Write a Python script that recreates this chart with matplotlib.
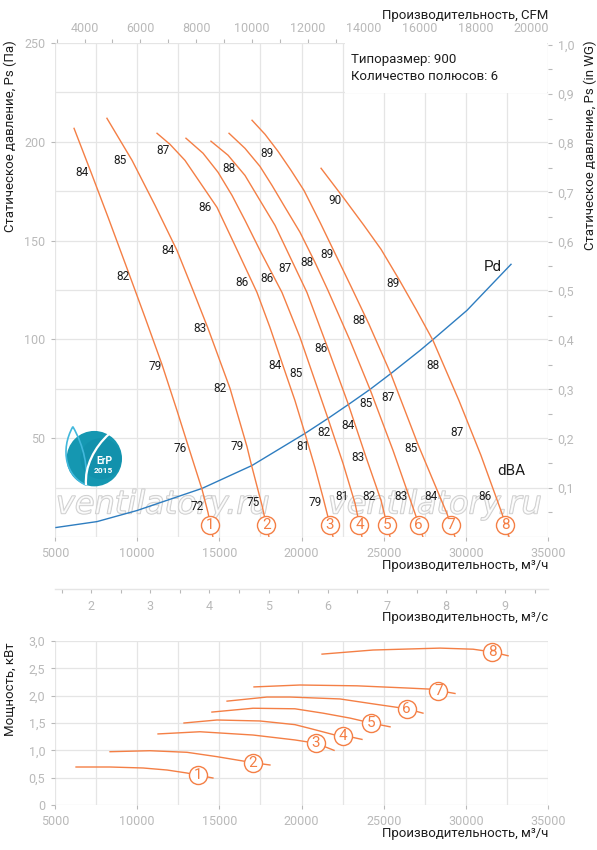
import numpy as np
import matplotlib
matplotlib.use('Agg')
import matplotlib.pyplot as plt
from matplotlib.ticker import MultipleLocator, FuncFormatter, FixedLocator
from matplotlib.patches import Rectangle, Circle, PathPatch
from matplotlib.path import Path
import matplotlib.patheffects as pe

plt.rcParams['font.family'] = ['Roboto', 'DejaVu Sans']

# ---------------- data: pressure curves (m3/h, Pa) ----------------
q_1 = [6160, 7190, 8230, 9380, 10480, 11510, 12420, 13210, 13950, 14310, 14610]
ps_1 = [206.8, 184.6, 161.8, 136.0, 111.1, 87.3, 64.1, 43.3, 24.0, 12.4, 0]
q_2 = [8160, 9690, 11090, 12420, 13400, 14310, 15650, 16680, 16930, 17600, 18020]
ps_2 = [211.9, 190.6, 167.8, 145.1, 124.8, 105.6, 75.2, 45.8, 37.2, 15.9, 0]
q_3 = [11210, 12000, 12910, 13820, 14860, 15950, 17290, 18080, 18870, 19600, 20210, 20820, 21310, 21920]
ps_3 = [204.3, 198.7, 190.6, 179.5, 166.8, 147.6, 123.8, 106.1, 86.8, 69.1, 52.4, 35.2, 20.0, 0]
q_4 = [12970, 14010, 14920, 15770, 16560, 17470, 18810, 19910, 21610, 22530, 23260, 23680]
ps_4 = [201.8, 194.2, 184.6, 172.9, 160.3, 145.1, 123.8, 101.0, 60.0, 37.2, 17.0, 0]
q_5 = [14490, 15530, 16560, 17470, 18390, 20330, 21610, 22830, 23930, 24840, 25390]
ps_5 = [200.3, 193.2, 183.0, 170.4, 157.7, 123.8, 95.4, 67.6, 40.3, 18.5, 0]
q_6 = [15590, 16560, 17470, 18200, 19000, 19910, 20820, 21610, 22950, 24170, 25570, 26910, 27390]
ps_6 = [204.3, 196.7, 187.6, 178.0, 166.8, 154.2, 139.0, 124.8, 99.5, 74.7, 43.8, 11.9, 0]
q_7 = [16990, 17780, 18570, 19360, 20150, 21130, 22100, 23070, 24110, 25450, 27090, 28850, 29340]
ps_7 = [210.9, 203.8, 195.2, 185.6, 175.4, 159.2, 142.5, 125.8, 107.6, 82.3, 46.8, 11.9, 0]
q_8 = [21190, 22580, 23800, 24840, 25930, 26970, 28000, 29580, 30920, 32200, 32630]
ps_8 = [186.6, 171.4, 157.7, 145.6, 130.4, 115.2, 99.5, 69.1, 41.3, 11.9, 0]

# dynamic pressure Pd
pd_q = [5060, 7560, 9990, 13950, 16990, 20210, 21610, 22950, 24170, 25450, 27210, 27940, 30070, 32750]
pd_ps = [4.8, 7.8, 13.4, 24.6, 36.2, 52.4, 60.0, 67.6, 74.7, 82.8, 94.4, 99.5, 114.7, 138.0]

# sound level labels (dBA) along the curves
dba_q = [6640, 9140, 11090, 12610, 13640,
         8960, 11880, 13820, 15040, 16080, 17050,
         11570, 14130, 16380, 18390, 20090, 20820,
         17900, 19670, 21370, 22460,
         15590, 19000, 21190, 22830, 23440, 24110,
         20330, 23930, 26050,
         17900, 21550, 23500, 25260, 26660, 27880,
         22040, 25570, 28000, 29460, 31170]
dba_ps = [184.6, 131.9, 86.1, 44.8, 15.4,
          190.6, 145.1, 105.6, 75.2, 45.8, 17.5,
          195.7, 166.8, 128.6, 86.8, 45.8, 17.5,
          130.9, 82.8, 52.9, 20.5,
          186.6, 135.9, 95.4, 56.5, 40.3, 20.5,
          139.0, 67.6, 20.5,
          194.2, 143.0, 109.6, 70.6, 44.8, 20.5,
          170.4, 128.4, 86.8, 52.9, 20.5]
dba_val = ['84', '82', '79', '76', '72',
           '85', '84', '83', '82', '79', '75',
           '87', '86', '86', '84', '81', '79',
           '86', '85', '82', '81',
           '88', '87', '86', '84', '83', '82',
           '88', '85', '83',
           '89', '89', '88', '87', '85', '84',
           '90', '89', '88', '87', '86']

# ---------------- data: power curves (m3/h, kW) ----------------
pq_1 = [6280, 8350, 10360, 11820, 13030, 14610]
pw_1 = [0.695, 0.695, 0.677, 0.640, 0.585, 0.494]
pq_2 = [8350, 10780, 13030, 14860, 17050, 18080]
pw_2 = [0.975, 0.993, 0.964, 0.884, 0.774, 0.732]
pq_3 = [11270, 13820, 17050, 19600, 20880, 21980]
pw_3 = [1.30, 1.34, 1.28, 1.19, 1.13, 1.00]
pq_4 = [12850, 14860, 17470, 19600, 20520, 22040, 23070, 23680]
pw_4 = [1.50, 1.555, 1.537, 1.47, 1.40, 1.28, 1.24, 1.20]
pq_5 = [14550, 17050, 19600, 21310, 22950, 24230, 25390]
pw_5 = [1.70, 1.77, 1.76, 1.68, 1.59, 1.50, 1.43]
pq_6 = [15470, 17900, 19300, 22340, 24350, 26420, 27390]
pw_6 = [1.90, 1.975, 1.975, 1.94, 1.85, 1.76, 1.68]
pq_7 = [17110, 19910, 23380, 26420, 27820, 29340]
pw_7 = [2.16, 2.195, 2.18, 2.14, 2.12, 2.04]
pq_8 = [21250, 24350, 28430, 30440, 31590, 32570]
pw_8 = [2.76, 2.835, 2.87, 2.85, 2.80, 2.73]

curve_ids = ['1', '2', '3', '4', '5', '6', '7', '8']
mark_ps = 6.3            # Pa level where the number circles sit
pw_mark_q = [13700, 17050, 20880, 22530, 24230, 26400, 28320, 31590]

info_lines = ['Типоразмер: 900', 'Количество полюсов: 6']

# ---------------- styling ----------------
ORANGE = '#f47f45'
BLUE = '#2e7dc0'
GRID = '#e5e5e5'
TICK = '#b9b9b9'
TXT = '#1e1e1e'
W, H = 597, 850
FS_TICK = 9
FS_LAB = 9.5


def fx(px):
    return px / W


def fy(py):
    return 1 - py / H


def comma(v, p=None):
    if abs(v) < 1e-9:
        return '0'
    return f'{v:.1f}'.replace('.', ',')


fig = plt.figure(figsize=(W / 100, H / 100), dpi=100)

# ---------- main pressure axes ----------
ax = fig.add_axes([fx(55), fy(537), fx(548) - fx(55), fy(43) - fy(537)])
ax.set_xlim(5000, 35000)
ax.set_ylim(0, 250)
ax.set_axisbelow(True)
for s in ax.spines.values():
    s.set_visible(False)
ax.xaxis.set_major_locator(MultipleLocator(5000))
ax.xaxis.set_minor_locator(MultipleLocator(2500))
ax.yaxis.set_major_locator(FixedLocator([50, 100, 150, 200, 250]))
ax.yaxis.set_minor_locator(MultipleLocator(25))
ax.grid(True, which='both', color=GRID, lw=0.9)
ax.tick_params(axis='both', which='major', colors=TICK, labelsize=FS_TICK, length=3, width=0.8, pad=4)
ax.tick_params(which='minor', length=0)
ax.xaxis.set_major_formatter(FuncFormatter(lambda v, p: f'{int(v)}'))

# white info box
ax.add_patch(Rectangle((0.588, 0.899), 0.409, 0.11, transform=ax.transAxes,
                       facecolor='white', edgecolor='none', zorder=1, clip_on=False))
for i, line in enumerate(info_lines):
    fig.text(fx(351), fy(59 + 17 * i), line, ha='left', va='center', fontsize=9.5, color=TXT, zorder=5)

# watermarks (behind the curves)
for xc in (163, 435):
    ax.text(5000 + (xc - 55) * 30000 / 493, (537 - 505) * 250 / 494, 'ventilatory.ru',
            ha='center', va='center', fontsize=23, family='DejaVu Sans', style='italic',
            color=(1, 1, 1, 0.55), zorder=1.5, clip_on=False,
            path_effects=[pe.withStroke(linewidth=1.0, foreground='#cacaca')])

# Pd curve
ax.plot(pd_q, pd_ps, color=BLUE, lw=1.0, zorder=2)
ax.text(31650, 136.5, 'Pd', fontsize=11, color=TXT, ha='center', va='center', zorder=4)
ax.text(32750, 33.2, 'dBA', fontsize=11, color=TXT, ha='center', va='center', zorder=4)

pq_list = [q_1, q_2, q_3, q_4, q_5, q_6, q_7, q_8]
ps_list = [ps_1, ps_2, ps_3, ps_4, ps_5, ps_6, ps_7, ps_8]
for q, ps, cid in zip(pq_list, ps_list, curve_ids):
    ax.plot(q, ps, color=ORANGE, lw=1.0, zorder=3, solid_joinstyle='round')
    xm = np.interp(mark_ps, ps[::-1], q[::-1])
    ax.plot([xm], [mark_ps], marker='o', ms=13, mfc='white', mec=ORANGE, mew=1.0, zorder=5)
    ax.text(xm, mark_ps, cid, color=ORANGE, fontsize=11, ha='center', va='center', zorder=6)

for xq, yp, t in zip(dba_q, dba_ps, dba_val):
    ax.text(xq, yp, t, fontsize=8.5, color=TXT, ha='center', va='center', zorder=4)

# top CFM axis
cfm = 0.588578
sec = ax.secondary_xaxis('top', functions=(lambda v: v * cfm, lambda v: v / cfm))
sec.xaxis.set_major_locator(FixedLocator(list(range(4000, 20001, 2000))))
sec.xaxis.set_minor_locator(FixedLocator(list(range(3000, 20001, 1000))))
sec.xaxis.set_major_formatter(FuncFormatter(lambda v, p: f'{int(v)}'))
sec.tick_params(which='both', colors=TICK, labelsize=FS_TICK, length=3, width=0.8, pad=3)
sec.spines['top'].set_visible(False)

# right in WG axis
tw = ax.twinx()
tw.set_ylim(0, 250 / 249.089)
for s in tw.spines.values():
    s.set_visible(False)
tw.yaxis.set_major_locator(FixedLocator([0.1, 0.2, 0.3, 0.4, 0.5, 0.6, 0.7, 0.8, 0.9, 1.0]))
tw.yaxis.set_minor_locator(FixedLocator([0.05, 0.15, 0.25, 0.35, 0.45, 0.55, 0.65, 0.75, 0.85, 0.95]))
tw.yaxis.set_major_formatter(FuncFormatter(comma))
tw.tick_params(which='both', colors=TICK, labelsize=FS_TICK, length=3, width=0.8, pad=4)

# ---------- m3/s axis ----------
ax3 = fig.add_axes([fx(55), fy(589), fx(548) - fx(55), 0.0001])
ax3.set_xlim(5000 / 3600, 35000 / 3600)
ax3.set_yticks([])
for k in ['top', 'left', 'right']:
    ax3.spines[k].set_visible(False)
ax3.spines['bottom'].set_color(GRID)
ax3.spines['bottom'].set_linewidth(1.0)
ax3.patch.set_alpha(0)
ax3.xaxis.set_major_locator(FixedLocator([2, 3, 4, 5, 6, 7, 8, 9]))
ax3.xaxis.set_minor_locator(FixedLocator([1.5, 2.5, 3.5, 4.5, 5.5, 6.5, 7.5, 8.5, 9.5]))
ax3.tick_params(which='both', colors=TICK, labelsize=FS_TICK, length=3, width=0.8, pad=5)

# ---------- power axes ----------
axp = fig.add_axes([fx(55), fy(805), fx(548) - fx(55), fy(641) - fy(805)])
axp.set_xlim(5000, 35000)
axp.set_ylim(0, 3)
axp.set_axisbelow(True)
for s in axp.spines.values():
    s.set_visible(False)
axp.xaxis.set_major_locator(MultipleLocator(5000))
axp.xaxis.set_minor_locator(MultipleLocator(2500))
axp.yaxis.set_major_locator(MultipleLocator(0.5))
axp.yaxis.set_major_formatter(FuncFormatter(comma))
axp.xaxis.set_major_formatter(FuncFormatter(lambda v, p: f'{int(v)}'))
axp.grid(True, which='both', color=GRID, lw=0.9)
axp.tick_params(axis='both', which='major', colors=TICK, labelsize=FS_TICK, length=3, width=0.8, pad=4)
axp.tick_params(which='minor', length=0)

pwq_list = [pq_1, pq_2, pq_3, pq_4, pq_5, pq_6, pq_7, pq_8]
pw_list = [pw_1, pw_2, pw_3, pw_4, pw_5, pw_6, pw_7, pw_8]
for q, pw, cid, xm in zip(pwq_list, pw_list, curve_ids, pw_mark_q):
    axp.plot(q, pw, color=ORANGE, lw=1.0, zorder=3, solid_joinstyle='round')
    ym = np.interp(xm, q, pw)
    axp.plot([xm], [ym], marker='o', ms=13, mfc='white', mec=ORANGE, mew=1.0, zorder=5)
    axp.text(xm, ym, cid, color=ORANGE, fontsize=11, ha='center', va='center', zorder=6)

# ---------- axis labels ----------
fig.text(fx(10), fy(40), 'Статическое давление, Ps (Па)', rotation=90, ha='center', va='top', fontsize=FS_LAB, color=TXT)
fig.text(fx(590), fy(40), 'Статическое давление, Ps (in WG)', rotation=90, ha='center', va='top', fontsize=FS_LAB, color=TXT)
fig.text(fx(548), fy(15), 'Производительность, CFM', ha='right', va='center', fontsize=FS_LAB, color=TXT)
fig.text(fx(548), fy(565), 'Производительность, м³/ч', ha='right', va='center', fontsize=FS_LAB, color=TXT)
fig.text(fx(548), fy(617), 'Производительность, м³/с', ha='right', va='center', fontsize=FS_LAB, color=TXT)
fig.text(fx(10), fy(642), 'Мощность, кВт', rotation=90, ha='center', va='top', fontsize=FS_LAB, color=TXT)
fig.text(fx(548), fy(833), 'Производительность, м³/ч', ha='right', va='center', fontsize=FS_LAB, color=TXT)

# ---------- ErP logo ----------
lg = fig.add_axes([fx(58), fy(490), fx(124) - fx(58), fy(424) - fy(490)])
lg.set_xlim(-1, 1)
lg.set_ylim(-1, 1)
lg.set_aspect('equal')
lg.axis('off')
lg.add_patch(Circle((0.1, -0.05), 0.84, facecolor='#1597b1', edgecolor='none'))
lg.add_patch(Circle((0.3, -0.05), 0.62, facecolor='#0d86a4', edgecolor='none', alpha=0.35))
leaf = Path([(-0.55, 0.92), (-0.95, 0.2), (-0.75, -0.6), (-0.15, -0.85),
             (-0.1, -0.3), (-0.2, 0.3), (-0.55, 0.92)],
            [Path.MOVETO, Path.CURVE4, Path.CURVE4, Path.CURVE4,
             Path.CURVE4, Path.CURVE4, Path.CURVE4])
lg.add_patch(PathPatch(leaf, facecolor='none', edgecolor='#42b8dc', lw=1.2))
leaf2 = Path([(0.55, 0.7), (0.1, 0.3), (-0.2, -0.3), (-0.15, -0.85)],
             [Path.MOVETO, Path.CURVE4, Path.CURVE4, Path.CURVE4])
lg.add_patch(PathPatch(leaf2, facecolor='none', edgecolor='white', lw=1.6))
lg.text(0.42, -0.12, 'ErP', color='white', fontsize=7.5, ha='center', va='center', fontweight='bold')
lg.text(0.38, -0.42, '2015', color='white', fontsize=6, ha='center', va='center', fontweight='bold')

fig.savefig('out.png', dpi=100)
